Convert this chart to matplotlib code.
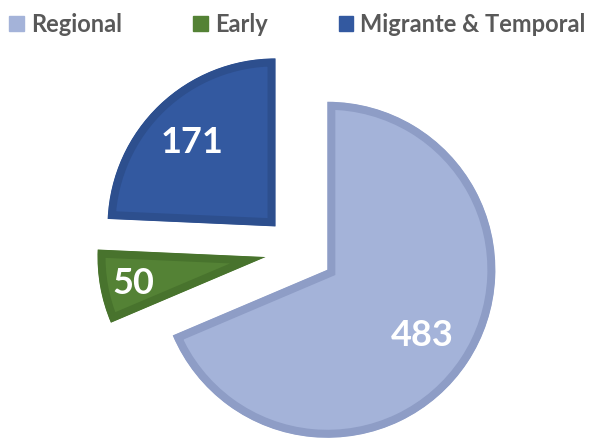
import matplotlib
matplotlib.use("Agg")
import matplotlib.pyplot as plt
import numpy as np

labels = ["Regional", "Early", "Migrante & Temporal"]
values = [483, 50, 171]
fill_colors = ["#A4B3D9", "#548235", "#3359A0"]
rim_colors = ["#8E9DC6", "#48732D", "#2D4F8E"]
label_dist = [0.68, 0.80, 0.72]

plt.rcParams["font.family"] = ["Lato", "DejaVu Sans"]

fig = plt.figure(figsize=(5.95, 4.4), dpi=100)
ax = fig.add_axes([0, 0, 1, 1])

radius = 168
# explode is in data units here (axes are in pixels)
wedges, _ = ax.pie(
    values,
    colors=fill_colors,
    startangle=90,
    counterclock=False,
    radius=radius,
    center=(299, 189),
    explode=[34, 34, 34],
    wedgeprops=dict(linewidth=11.5),
    frame=True,
)

for w, rim, val, d in zip(wedges, rim_colors, values, label_dist):
    w.set_edgecolor(rim)
    # keep only the inner half of the stroke -> rim inside the wedge
    w.set_clip_on(True)
    w.set_clip_path(w)
    mid = np.deg2rad((w.theta1 + w.theta2) / 2)
    cx, cy = w.center
    ax.text(cx + d * radius * np.cos(mid), cy + d * radius * np.sin(mid), str(val),
            color="white", fontsize=26, fontweight="bold", ha="center", va="center_baseline")

ax.set_xlim(0, 595)
ax.set_ylim(0, 440)
ax.set_aspect("equal")
ax.axis("off")

handles = [plt.Rectangle((0, 0), 1, 1, color=c) for c in fill_colors]
leg = ax.legend(handles, labels, loc="upper center", bbox_to_anchor=(0.5, 0.992), ncol=3,
                frameon=False, handlelength=0.63, handleheight=0.63, handletextpad=0.3,
                columnspacing=3.0, borderaxespad=0, prop=dict(size=17, weight="bold"))
for t in leg.get_texts():
    t.set_color("#595959")

fig.savefig("out.png", dpi=100)
